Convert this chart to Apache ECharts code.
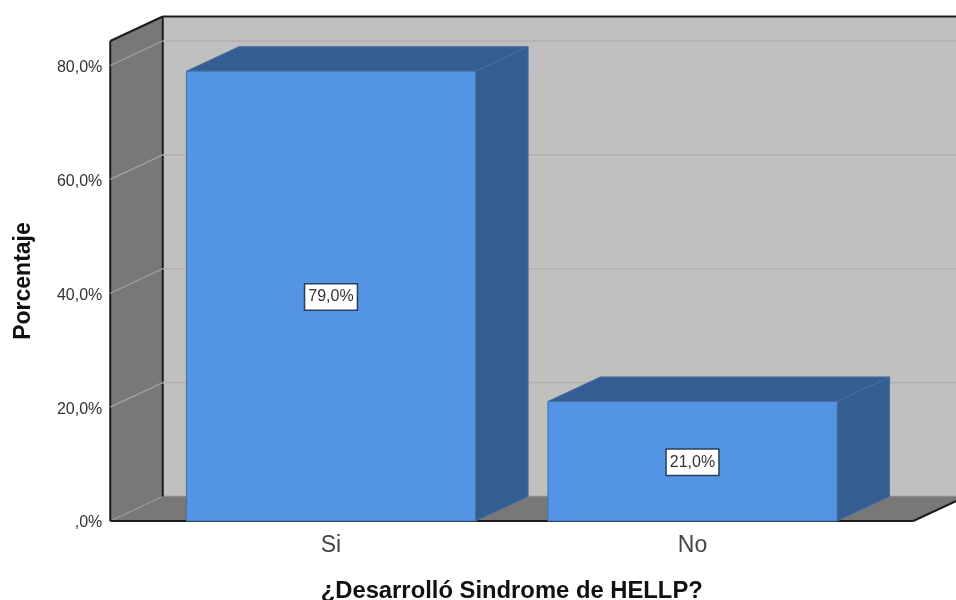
<!DOCTYPE html>
<html>
<head>
<meta charset="utf-8">
<style>html,body{margin:0;padding:0;background:#fff}#chart{width:956px;height:600px}</style>
<script src="https://cdn.jsdelivr.net/npm/echarts@6/dist/echarts.min.js"></script>
</head>
<body>
<div id="chart"></div>
<script>
// Data
const categories = ['Si', 'No'];
const percentages = [79.0, 21.0];
const valueLabels = ['79,0%', '21,0%'];
const gridValues = [20, 40, 60, 80];

// Box depth projected on screen, and how far the floor runs past the outer bands
const DX = 52.5, DY = 24.5, FLOOR_PAD = 40;
const C = {
  wall: '#c0c0c0', side: '#787878', floor: '#787878', edge: '#1c1c1c',
  gridBack: '#b1b1b1', gridSide: '#a4a4a4',
  front: '#5394e5', dark: '#345d92', barEdge: '#4a6f9f', text: '#333333'
};

function poly(points, fill, stroke, lw) {
  return { type: 'polygon', shape: { points }, style: { fill, stroke: stroke || null, lineWidth: lw || 0 } };
}
function line(x1, y1, x2, y2, stroke, lw, dash) {
  return { type: 'line', shape: { x1, y1, x2, y2 }, style: { stroke, lineWidth: lw, lineDash: dash || null, fill: null } };
}

// Back wall, side wall and floor, spanning the full value axis
function renderBox(params, api) {
  const cs = params.coordSys;
  const L = cs.x - FLOOR_PAD, R = cs.x + cs.width + FLOOR_PAD;
  const T = cs.y, B = cs.y + cs.height;
  return { type: 'group', silent: true, children: [
    poly([[L + DX, T - DY], [R + DX, T - DY], [R + DX, B - DY], [L + DX, B - DY]], C.wall),
    poly([[L, T], [L + DX, T - DY], [L + DX, B - DY], [L, B]], C.side),
    poly([[L, B], [L + DX, B - DY], [R + DX, B - DY], [R, B]], C.floor),
    line(L + DX, B - DY, R + DX, B - DY, '#8c8c8c', 1.5),
    line(L, B, L + DX, B - DY, '#b0b0b0', 1, [1.5, 1.5]),
    line(L, T, L + DX, T - DY, C.edge, 2),
    line(L + DX, T - DY, R + DX, T - DY, C.edge, 2),
    line(L, T, L, B, C.edge, 2),
    line(L + DX, T - DY, L + DX, B - DY, C.edge, 2),
    line(L, B, R, B, C.edge, 2),
    line(R, B, R + DX, B - DY, C.edge, 2)
  ] };
}

// One gridline folded across the side wall and the back wall
function renderGrid(params, api) {
  const cs = params.coordSys;
  const L = cs.x - FLOOR_PAD, R = cs.x + cs.width + FLOOR_PAD;
  const y = api.coord([0, api.value(0)])[1];
  return { type: 'group', silent: true, children: [
    line(L, y, L + DX, y - DY, C.gridSide, 1.2),
    line(L + DX, y - DY, R + DX, y - DY, C.gridBack, 1.6)
  ] };
}

// Extruded bar: side and top faces behind the front face, value label centred on it
function renderBar(params, api) {
  const idx = api.value(0), v = api.value(1);
  const top = api.coord([idx, v]), base = api.coord([idx, 0]);
  const w = api.size([1, 0])[0] * 0.8;
  const x0 = top[0] - w / 2, x1 = top[0] + w / 2;
  const yt = top[1], yb = base[1];
  return { type: 'group', children: [
    poly([[x1, yt], [x1 + DX, yt - DY], [x1 + DX, yb - DY], [x1, yb]], C.dark, C.barEdge, 1),
    poly([[x0, yt], [x0 + DX, yt - DY], [x1 + DX, yt - DY], [x1, yt]], C.dark, C.barEdge, 1),
    poly([[x0, yt], [x1, yt], [x1, yb], [x0, yb]], C.front, C.barEdge, 1),
    { type: 'text', z2: 10, style: {
        x: top[0], y: (yt + yb) / 2 + 1, text: valueLabels[params.dataIndex],
        align: 'center', verticalAlign: 'middle',
        fill: C.text, font: '16px "Liberation Sans", Arial, sans-serif',
        backgroundColor: '#ffffff', borderColor: '#2b3f5c', borderWidth: 1.5,
        padding: [5, 3, 4, 3]
    } }
  ] };
}

const chart = echarts.init(document.getElementById('chart'), null, { renderer: 'canvas' });
chart.setOption({
  animation: false,
  backgroundColor: '#ffffff',
  grid: { left: 150.25, width: 723, top: 41, height: 480, containLabel: false, outerBoundsMode: 'none' },
  xAxis: {
    type: 'category', data: categories,
    axisLine: { show: false }, axisTick: { show: false }, splitLine: { show: false },
    axisLabel: { margin: 13, fontSize: 23, color: '#444444', fontFamily: '"Liberation Sans", Arial, sans-serif' },
    name: '¿Desarrolló Sindrome de HELLP?', nameLocation: 'middle', nameGap: 58,
    nameTextStyle: { fontSize: 23.8, fontWeight: 'bold', color: '#111111', fontFamily: '"Liberation Sans", Arial, sans-serif' }
  },
  yAxis: {
    type: 'value', min: 0, max: 84.3, interval: 20, offset: 40,
    axisLine: { show: false }, axisTick: { show: false }, splitLine: { show: false },
    axisLabel: {
      margin: 8, showMaxLabel: false,
      formatter: v => '{t|' + (v === 0 ? ',0%' : v.toFixed(1).replace('.', ',') + '%') + '}',
      rich: { t: { fontSize: 16, color: C.text, fontFamily: '"Liberation Sans", Arial, sans-serif', padding: [4, 0, 0, 0] } }
    },
    name: 'Porcentaje', nameLocation: 'middle', nameGap: 75, nameRotate: 90,
    nameTextStyle: { fontSize: 23, fontWeight: 'bold', color: '#111111', fontFamily: '"Liberation Sans", Arial, sans-serif' }
  },
  series: [
    { type: 'custom', z: 1, silent: true, clip: false, renderItem: renderBox, data: [[0]] },
    { type: 'custom', z: 2, silent: true, clip: false, renderItem: renderGrid, data: gridValues.map(v => [v]), encode: { y: 0 } },
    { type: 'custom', z: 3, silent: true, clip: false, renderItem: renderBar,
      data: percentages.map((v, i) => [i, v]), encode: { x: 0, y: 1 } }
  ]
});
</script>
</body>
</html>
